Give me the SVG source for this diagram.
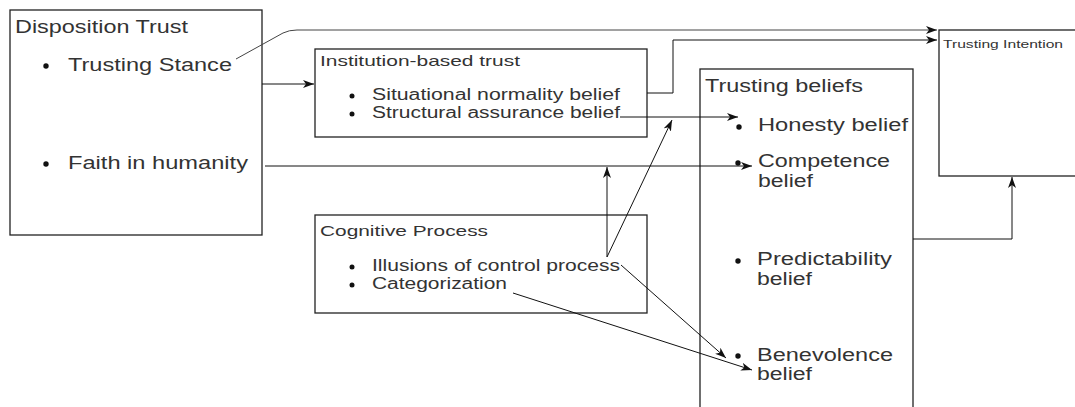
<svg xmlns="http://www.w3.org/2000/svg" width="1075" height="407" viewBox="0 0 1075 407">
<defs>
<marker id="arr" markerUnits="userSpaceOnUse" markerWidth="13" markerHeight="10" refX="11" refY="4" orient="auto">
<path d="M0,0 L11,4 L0,8 L3,4 z" fill="#111"/>
</marker>
<style>
.box{fill:#fff;stroke:#222;stroke-width:1.3}
.t{font-family:"Liberation Sans",Arial,sans-serif;fill:#333}
.big{font-size:17.5px}
.mid{font-size:16px}
.sm{font-size:15px}
.xs{font-size:11.5px}
.dot{fill:#111}
.c{fill:none;stroke:#111;stroke-width:1}
</style>
</defs>
<rect width="1075" height="407" fill="#fff"/>
<g id="disposition">
<rect class="box" x="10" y="10" width="252" height="225"/>
<text class="t big" x="15" y="33" textLength="173" lengthAdjust="spacingAndGlyphs">Disposition Trust</text>
<circle class="dot" cx="46" cy="66" r="2.7"/>
<text class="t big" x="68" y="71" textLength="164" lengthAdjust="spacingAndGlyphs">Trusting Stance</text>
<circle class="dot" cx="46" cy="164" r="2.7"/>
<text class="t big" x="68" y="169" textLength="180" lengthAdjust="spacingAndGlyphs">Faith in humanity</text>
</g>
<g id="institution">
<rect class="box" x="315" y="49" width="332" height="88"/>
<text class="t sm" x="320" y="66" textLength="200" lengthAdjust="spacingAndGlyphs">Institution-based trust</text>
<circle class="dot" cx="352" cy="96" r="2.5"/>
<text class="t mid" x="372" y="100" textLength="248" lengthAdjust="spacingAndGlyphs">Situational normality belief</text>
<circle class="dot" cx="352" cy="114" r="2.5"/>
<text class="t mid" x="372" y="118" textLength="248" lengthAdjust="spacingAndGlyphs">Structural assurance belief</text>
</g>
<g id="cognitive">
<rect class="box" x="315" y="215" width="332" height="98"/>
<text class="t sm" x="320" y="236" textLength="168" lengthAdjust="spacingAndGlyphs">Cognitive Process</text>
<circle class="dot" cx="352" cy="267" r="2.5"/>
<text class="t mid" x="372" y="271" textLength="248" lengthAdjust="spacingAndGlyphs">Illusions of control process</text>
<circle class="dot" cx="352" cy="285" r="2.5"/>
<text class="t mid" x="372" y="289" textLength="135" lengthAdjust="spacingAndGlyphs">Categorization</text>
</g>
<g id="beliefs">
<rect class="box" x="700" y="69" width="213" height="350"/>
<text class="t big" x="705" y="92" textLength="158" lengthAdjust="spacingAndGlyphs">Trusting beliefs</text>
<circle class="dot" cx="739" cy="127" r="2.7"/>
<text class="t big" x="758" y="131" textLength="150" lengthAdjust="spacingAndGlyphs">Honesty belief</text>
<circle class="dot" cx="738" cy="163" r="2.7"/>
<text class="t big" x="758" y="167" textLength="132" lengthAdjust="spacingAndGlyphs">Competence</text>
<text class="t big" x="758" y="187" textLength="55" lengthAdjust="spacingAndGlyphs">belief</text>
<circle class="dot" cx="738" cy="261" r="2.7"/>
<text class="t big" x="757" y="265" textLength="135" lengthAdjust="spacingAndGlyphs">Predictability</text>
<text class="t big" x="757" y="285" textLength="55" lengthAdjust="spacingAndGlyphs">belief</text>
<circle class="dot" cx="738" cy="356" r="2.7"/>
<text class="t big" x="757" y="361" textLength="136" lengthAdjust="spacingAndGlyphs">Benevolence</text>
<text class="t big" x="757" y="380" textLength="55" lengthAdjust="spacingAndGlyphs">belief</text>
</g>
<g id="intention">
<rect class="box" x="939" y="30" width="150" height="146"/>
<text class="t xs" x="943" y="48" textLength="120" lengthAdjust="spacingAndGlyphs">Trusting Intention</text>
</g>
<g id="connectors">
<path class="c" style="stroke:#444" d="M236,59 L283,33 Q289,30 297,30 L937,30" marker-end="url(#arr)"/>
<path class="c" d="M262,84 L314,84" marker-end="url(#arr)"/>
<path class="c" d="M265,166 L752,166" marker-end="url(#arr)"/>
<path class="c" d="M647,93 L673,93 L673,40 L937,40" marker-end="url(#arr)"/>
<path class="c" d="M620,117 L738,117" marker-end="url(#arr)"/>
<path class="c" d="M607,257 L607,167" marker-end="url(#arr)"/>
<path class="c" d="M607,257 L672,120" marker-end="url(#arr)"/>
<path class="c" d="M621,265 L726,358" marker-end="url(#arr)"/>
<path class="c" d="M513,293 L752,370" marker-end="url(#arr)"/>
<path class="c" d="M913,239 L1012,239 L1012,177" marker-end="url(#arr)"/>
</g>
</svg>
